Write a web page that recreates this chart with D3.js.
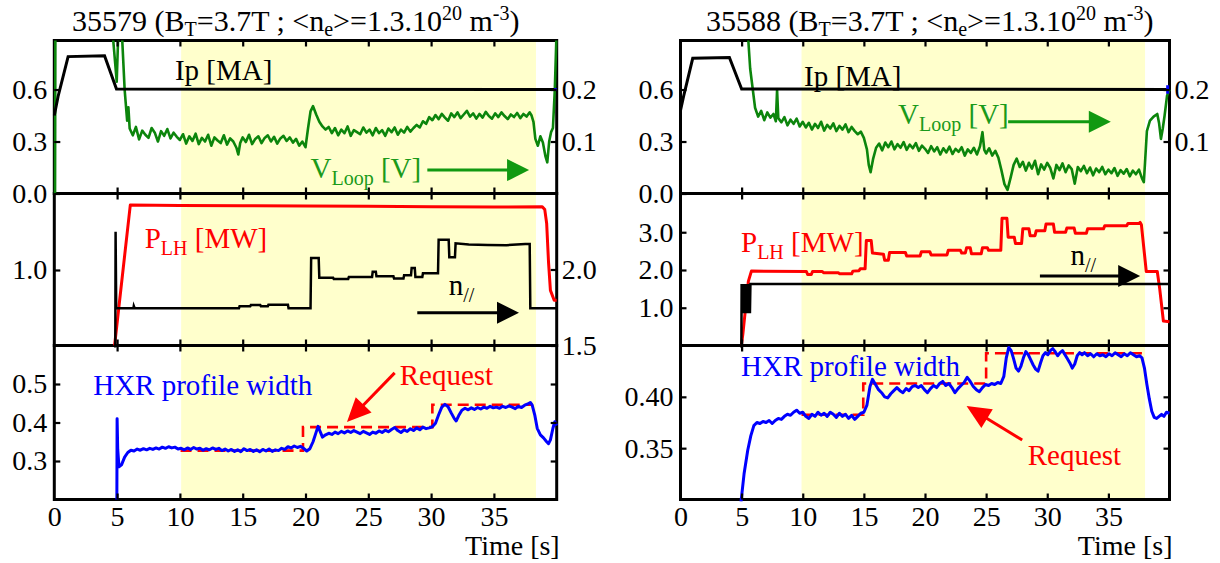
<!DOCTYPE html>
<html><head><meta charset="utf-8">
<script src="https://cdn.jsdelivr.net/npm/d3@7"></script>
<style>
body{margin:0;background:#fff}
svg{display:block}
</style>
</head><body>
<svg id="c" width="1220" height="563"></svg>
<script>
// ---------------- DATA ----------------
const xTicks = [0,5,10,15,20,25,30,35];
const ipTicks = [0.0,0.3,0.6];
const vloopTicks = [0.1,0.2];
const plhTicks35579 = [1.0];
const nparTicks35579 = [1.5,2.0];
const plhTicks35588 = [1.0,2.0,3.0];
const hxrTicks35579 = [0.3,0.4,0.5];
const hxrTicks35588 = [0.35,0.40];

const band35579 = [10.1, 38.35];
const band35588 = [9.9, 38.0];

// Ip [MA]
const ip35579 = [[0,0.45],[0.3,0.56],[1.1,0.79],[4.0,0.795],[4.95,0.603],[40,0.6]];
const ip35588 = [[0,0.48],[0.25,0.56],[1.0,0.78],[4.0,0.785],[5.0,0.603],[40,0.6]];
const ipTail35579 = [[39.8,0.6],[40,0.6]];
const ipTail35588 = [[39.85,0.575],[39.85,0.625]];

// V_loop [V]
const vloop35579 = [[0.06,0],[0.09,0.35],[4.5,0.35],[4.97,0.215],[5.15,0.35],[5.3,0.35],[5.6,0.2],[5.8,0.14],[5.9,0.166],[6.0,0.125],
[6.25,0.112],[6.5,0.128],[6.75,0.104],[7.0,0.121],[7.25,0.113],[7.5,0.107],[7.75,0.126],[8.0,0.117],[8.25,0.100],[8.5,0.120],[8.75,0.111],[9.0,0.124],[9.25,0.106],[9.5,0.117],[9.75,0.109],
[10.0,0.103],[10.25,0.114],[10.5,0.096],[10.75,0.110],[11.0,0.101],[11.25,0.115],[11.5,0.095],[11.75,0.107],[12.0,0.100],[12.25,0.113],[12.5,0.092],[12.75,0.108],[13.0,0.102],[13.25,0.097],[13.5,0.112],[13.75,0.094],[14.0,0.106],[14.25,0.100],[14.5,0.088],[14.65,0.075],[14.8,0.097],[15.0,0.108],[15.25,0.099],[15.5,0.113],[15.75,0.095],[16.0,0.105],[16.25,0.110],[16.5,0.097],[16.75,0.107],[17.0,0.112],[17.25,0.100],[17.5,0.109],[17.75,0.096],[18.0,0.106],[18.25,0.111],[18.5,0.101],[18.75,0.108],[19.0,0.098],[19.25,0.105],[19.5,0.092],[19.75,0.100],[20.0,0.089],
[20.2,0.125],[20.4,0.158],[20.6,0.168],[20.85,0.152],[21.1,0.138],[21.35,0.129],[21.6,0.123],[21.85,0.128],[22.1,0.116],[22.35,0.126],[22.6,0.112],[22.85,0.123],[23.1,0.116],[23.35,0.129],[23.6,0.111],[23.85,0.122],[24.1,0.118],[24.35,0.114],[24.6,0.127],[24.85,0.117],[25.1,0.123],[25.35,0.112],[25.6,0.126],[25.85,0.116],[26.1,0.122],[26.35,0.111],[26.6,0.125],[26.85,0.118],[27.1,0.127],[27.35,0.113],[27.6,0.123],[27.85,0.117],[28.1,0.128],[28.35,0.119],[28.6,0.126],[28.85,0.132],[29.1,0.127],[29.35,0.139],[29.6,0.134],[29.85,0.147],[30.1,0.141],[30.35,0.151],[30.6,0.143],[30.85,0.153],[31.1,0.146],[31.35,0.140],[31.6,0.154],[31.85,0.147],[32.1,0.156],[32.35,0.145],[32.6,0.152],[32.85,0.159],[33.1,0.148],[33.35,0.154],[33.6,0.144],[33.85,0.153],[34.1,0.146],[34.35,0.157],[34.6,0.149],[34.85,0.144],[35.1,0.154],[35.35,0.147],[35.6,0.156],[35.85,0.149],[36.1,0.143],[36.35,0.152],[36.6,0.147],[36.85,0.155],[37.1,0.145],[37.35,0.153],[37.6,0.148],[37.85,0.156],[38.0,0.150],
[38.15,0.138],[38.3,0.105],[38.5,0.092],[38.7,0.110],[38.9,0.098],[39.1,0.072],[39.25,0.060],[39.4,0.100],[39.55,0.118],[39.7,0.126],[39.85,0.200],[40.0,0.320]];

const vloop35588 = [[5.45,0.33],[5.7,0.24],[6.1,0.165],[6.35,0.148],[6.6,0.159],[6.85,0.141],[7.1,0.156],[7.35,0.146],[7.6,0.153],[7.8,0.139],[7.9,0.199],[8.0,0.145],[8.25,0.137],[8.5,0.147],[8.75,0.131],[9.0,0.142],[9.25,0.134],[9.5,0.144],[9.75,0.129],
[10.0,0.138],[10.25,0.127],[10.5,0.136],[10.75,0.123],[11.0,0.134],[11.25,0.126],[11.5,0.138],[11.75,0.121],[12.0,0.132],[12.25,0.125],[12.5,0.135],[12.75,0.120],[13.0,0.130],[13.25,0.123],[13.5,0.133],[13.75,0.118],[14.0,0.128],[14.25,0.120],[14.5,0.114],[14.75,0.119],[15.0,0.107],[15.25,0.085],[15.4,0.055],[15.55,0.041],[15.75,0.066],[16.0,0.088],[16.25,0.096],[16.5,0.083],[16.75,0.098],[17.0,0.089],[17.25,0.100],[17.5,0.085],[17.75,0.095],[18.0,0.088],[18.25,0.099],[18.5,0.084],[18.75,0.094],[19.0,0.087],[19.25,0.097],[19.5,0.082],[19.75,0.092],
[20.0,0.086],[20.25,0.078],[20.5,0.091],[20.75,0.081],[21.0,0.089],[21.25,0.075],[21.5,0.087],[21.75,0.079],[22.0,0.090],[22.25,0.076],[22.5,0.086],[22.75,0.080],[23.0,0.089],[23.25,0.073],[23.5,0.085],[23.75,0.078],[24.0,0.088],[24.25,0.075],[24.5,0.091],[24.7,0.118],[24.85,0.084],[25.0,0.077],[25.25,0.087],[25.5,0.073],[25.75,0.082],[26.0,0.069],[26.25,0.045],[26.5,0.018],[26.75,0.007],[27.0,0.030],[27.25,0.055],[27.5,0.067],[27.75,0.051],[28.0,0.061],[28.25,0.044],[28.5,0.059],[28.75,0.048],[29.0,0.063],[29.25,0.037],[29.5,0.056],[29.75,0.046],
[30.0,0.059],[30.25,0.049],[30.5,0.029],[30.75,0.055],[31.0,0.045],[31.25,0.058],[31.5,0.041],[31.75,0.054],[32.0,0.047],[32.25,0.019],[32.5,0.051],[32.75,0.043],[33.0,0.053],[33.25,0.039],[33.5,0.050],[33.75,0.035],[34.0,0.048],[34.25,0.041],[34.5,0.051],[34.75,0.037],[35.0,0.046],[35.25,0.039],[35.5,0.049],[35.75,0.034],[36.0,0.045],[36.25,0.038],[36.5,0.047],[36.75,0.033],[37.0,0.044],[37.25,0.037],[37.5,0.046],[37.75,0.029],[37.9,0.022],
[38.0,0.060],[38.15,0.120],[38.4,0.140],[38.7,0.148],[39.0,0.153],[39.15,0.135],[39.3,0.105],[39.45,0.125],[39.6,0.150],[39.8,0.188],[40.0,0.200]];

// P_LH [MW]
const plh35579 = [[4.8,0],[6.05,1.86],[10,1.855],[15,1.852],[20,1.848],[25,1.843],[30,1.838],[35,1.833],[38.85,1.838],[39.05,1.80],[39.2,1.62],[39.35,1.10],[39.5,0.73],[39.8,0.60],[40,0.60]];
const plh35588 = [[4.98,0],[5.1,0.3],[5.55,1.7],[5.8,1.97],[10.3,1.96],[10.4,1.88],[10.7,1.88],[10.8,1.96],[11.6,1.96],[11.7,1.93],[12.9,1.93],[13.0,1.9],[14.0,1.9],[14.1,1.97],[14.6,1.98],[14.7,2.03],[15.1,2.03],[15.2,2.78],[15.6,2.78],[15.7,2.45],[16.6,2.42],[16.7,2.26],[17.0,2.26],[17.1,2.46],[18.4,2.46],[18.5,2.37],[19.6,2.37],[19.7,2.48],[20.4,2.48],[20.5,2.40],[21.8,2.40],[21.9,2.52],[22.9,2.52],[23.0,2.45],[23.3,2.45],[23.4,2.59],[23.7,2.59],[23.8,2.43],[24.6,2.43],[24.7,2.59],[25.1,2.59],[25.2,2.52],[26.2,2.52],[26.3,3.37],[26.7,3.37],[26.8,2.87],[27.3,2.87],[27.4,2.70],[27.9,2.70],[28.0,3.09],[28.5,3.09],[28.6,2.91],[29.0,2.91],[29.1,3.04],[29.8,3.04],[29.9,3.22],[30.5,3.22],[30.6,3.00],[31.5,3.00],[31.6,3.11],[32.2,3.11],[32.3,2.97],[33.2,2.97],[33.3,3.09],[34.6,3.09],[34.7,3.17],[36.5,3.17],[36.6,3.23],[37.5,3.23],[37.6,3.26],[37.7,3.20],[38.1,1.96],[39.0,1.96],[39.2,1.50],[39.5,0.65],[40,0.63]];

// n_par (right axis of panel 2)
const npar35579 = [[4.85,1.3],[4.88,2.249],[4.93,1.745],[6.3,1.745],[6.33,1.76],[6.4,1.745],[14.7,1.745],[14.75,1.758],[15.6,1.758],[15.65,1.766],[16.4,1.766],[16.45,1.758],[17.0,1.758],[17.05,1.768],[18.6,1.768],[18.65,1.745],[20.4,1.745],[20.45,2.075],[21.05,2.075],[21.1,1.945],[22.2,1.945],[22.25,1.938],[23.4,1.938],[23.45,1.95],[25.3,1.95],[25.35,1.985],[25.6,1.985],[25.65,1.955],[27.0,1.955],[27.05,1.94],[27.8,1.94],[27.85,1.962],[28.4,1.962],[28.45,2.01],[28.7,2.01],[28.75,1.95],[29.3,1.95],[29.35,1.975],[30.55,1.975],[30.6,2.195],[31.4,2.195],[31.45,2.08],[31.9,2.08],[31.95,2.172],[33.0,2.165],[34.5,2.162],[36.0,2.16],[37.5,2.168],[37.85,2.168],[37.9,1.745],[40,1.745]];
const npar35588 = [[4.97,1.3],[5.0,1.905],[5.04,1.712],[5.08,1.905],[5.12,1.712],[5.16,1.905],[5.2,1.712],[5.24,1.905],[5.28,1.712],[5.32,1.905],[5.36,1.712],[5.4,1.905],[5.44,1.712],[5.48,1.905],[5.52,1.712],[5.56,1.905],[5.6,1.712],[5.64,1.905],[5.68,1.712],[5.72,1.905],[10,1.905],[20,1.904],[30,1.905],[40,1.905]];

// HXR profile width
const hxr35579 = [[4.98,0.20],[5.0,0.41],[5.05,0.33],[5.15,0.285],[5.35,0.29],[5.6,0.31],[5.85,0.322],[6.1,0.328],[6.35,0.326],[6.6,0.331],[6.85,0.328],[7.1,0.332],[7.35,0.329],[7.6,0.333],[7.85,0.330],[8.1,0.334],[8.35,0.331],[8.6,0.336],[8.85,0.333],[9.1,0.337],[9.35,0.334],[9.6,0.336],[9.85,0.331],
[10.1,0.333],[10.35,0.329],[10.6,0.334],[10.85,0.330],[11.1,0.335],[11.35,0.331],[11.6,0.333],[11.85,0.328],[12.1,0.332],[12.35,0.329],[12.6,0.334],[12.85,0.330],[13.1,0.333],[13.35,0.327],[13.6,0.331],[13.85,0.326],[14.1,0.330],[14.35,0.325],[14.6,0.329],[14.85,0.324],[15.1,0.332],[15.35,0.327],[15.6,0.330],[15.85,0.325],[16.1,0.329],[16.35,0.324],[16.6,0.330],[16.85,0.326],[17.1,0.331],[17.35,0.325],[17.6,0.329],[17.85,0.327],[18.1,0.333],[18.35,0.330],[18.6,0.337],[18.85,0.334],[19.1,0.339],[19.35,0.335],[19.6,0.338],[19.85,0.333],
[20.1,0.326],[20.35,0.332],[20.6,0.350],[20.85,0.375],[21.0,0.390],[21.15,0.378],[21.35,0.362],[21.6,0.368],[21.85,0.372],[22.1,0.369],[22.35,0.375],[22.6,0.371],[22.85,0.377],[23.1,0.373],[23.35,0.378],[23.6,0.374],[23.85,0.379],[24.1,0.375],[24.35,0.371],[24.6,0.377],[24.85,0.373],[25.1,0.369],[25.35,0.375],[25.6,0.372],[25.85,0.378],[26.1,0.374],[26.35,0.380],[26.6,0.376],[26.85,0.382],[27.1,0.387],[27.35,0.379],[27.6,0.374],[27.85,0.381],[28.1,0.377],[28.35,0.384],[28.6,0.379],[28.85,0.386],[29.1,0.381],[29.35,0.388],[29.6,0.384],[29.85,0.386],
[30.1,0.389],[30.35,0.398],[30.6,0.420],[30.85,0.440],[31.1,0.447],[31.35,0.441],[31.6,0.425],[31.85,0.410],[32.0,0.404],[32.2,0.418],[32.45,0.432],[32.7,0.437],[32.95,0.433],[33.2,0.438],[33.45,0.434],[33.7,0.439],[33.95,0.435],[34.2,0.440],[34.45,0.437],[34.7,0.442],[34.95,0.438],[35.2,0.440],[35.45,0.437],[35.7,0.442],[35.95,0.439],[36.2,0.443],[36.45,0.440],[36.7,0.436],[36.95,0.442],[37.2,0.439],[37.45,0.445],[37.7,0.448],[37.9,0.452],[38.05,0.445],[38.25,0.420],[38.45,0.385],[38.7,0.368],[38.95,0.360],[39.2,0.350],[39.35,0.345],[39.5,0.355],[39.7,0.385],[39.85,0.402],[40,0.392]];

const hxr35588 = [[4.95,0.298],[5.2,0.325],[5.5,0.348],[5.75,0.362],[6.0,0.372],[6.25,0.375],[6.5,0.374],[6.75,0.376],[7.0,0.375],[7.25,0.377],[7.5,0.374],[7.75,0.377],[8.0,0.379],[8.25,0.378],[8.5,0.381],[8.75,0.383],[9.0,0.382],[9.25,0.385],[9.5,0.387],[9.75,0.384],
[10.0,0.385],[10.25,0.381],[10.5,0.379],[10.75,0.383],[11.0,0.381],[11.25,0.385],[11.5,0.382],[11.75,0.384],[12.0,0.381],[12.25,0.385],[12.5,0.383],[12.75,0.380],[13.0,0.384],[13.25,0.381],[13.5,0.383],[13.75,0.379],[14.0,0.382],[14.25,0.378],[14.5,0.381],[14.75,0.384],[15.0,0.385],[15.25,0.392],[15.5,0.410],[15.7,0.417],[15.95,0.412],[16.2,0.407],[16.45,0.404],[16.7,0.400],[16.95,0.399],[17.2,0.403],[17.45,0.406],[17.7,0.409],[17.95,0.406],[18.2,0.404],[18.45,0.408],[18.7,0.406],[18.95,0.410],[19.2,0.411],[19.45,0.409],[19.7,0.411],[19.95,0.407],
[20.2,0.404],[20.45,0.408],[20.7,0.411],[20.95,0.409],[21.2,0.413],[21.45,0.415],[21.7,0.411],[21.95,0.413],[22.2,0.409],[22.45,0.404],[22.7,0.408],[22.95,0.411],[23.2,0.414],[23.45,0.419],[23.7,0.415],[23.95,0.410],[24.2,0.407],[24.45,0.405],[24.7,0.409],[24.95,0.412],[25.2,0.411],[25.45,0.413],[25.7,0.412],[25.95,0.414],[26.2,0.413],[26.45,0.420],[26.65,0.438],[26.85,0.448],[27.05,0.445],[27.25,0.437],[27.45,0.428],[27.65,0.425],[27.85,0.430],[28.05,0.438],[28.25,0.444],[28.45,0.441],[28.65,0.436],[28.85,0.431],[29.05,0.427],[29.25,0.425],[29.45,0.433],[29.65,0.440],[29.85,0.443],
[30.05,0.441],[30.25,0.445],[30.45,0.447],[30.65,0.444],[30.85,0.440],[31.05,0.443],[31.25,0.445],[31.45,0.441],[31.65,0.437],[31.85,0.433],[32.05,0.428],[32.25,0.432],[32.45,0.440],[32.65,0.443],[32.85,0.441],[33.05,0.443],[33.3,0.440],[33.55,0.442],[33.8,0.439],[34.05,0.442],[34.3,0.440],[34.55,0.441],[34.8,0.439],[35.05,0.442],[35.3,0.440],[35.55,0.443],[35.8,0.441],[36.05,0.439],[36.3,0.442],[36.55,0.440],[36.8,0.443],[37.05,0.441],[37.3,0.439],[37.55,0.440],[37.75,0.438],[37.95,0.428],[38.15,0.412],[38.35,0.398],[38.55,0.386],[38.75,0.380],[38.95,0.379],[39.15,0.381],[39.35,0.383],[39.55,0.381],[39.75,0.385],[40,0.384]];

// Requested HXR width (step)
const request35579 = [[10.05,0.327],[19.8,0.388],[30.1,0.446],[38.1,0.446]];
const request35588 = [[9.9,0.3825],[14.95,0.413],[25.0,0.4425],[37.85,0.4425]];

// ---------------- DRAWING ----------------
const svg = d3.select('#c');
const FONT = '"Liberation Serif","Times New Roman",serif';
const GREEN_LINE = '#0c850c', GREEN_TXT = '#1a9a1a';

const shots = [
  {id:'s35579', title:[['35579 (B'],['T','sub'],['=3.7T ; <n'],['e','sub'],['>=1.3.10'],['20','sup'],[' m'],['-3','sup'],[')']],
   titleX:72, x0:54.3, x1:556.7, band:band35579, ip:ip35579, ipTail:ipTail35579, vloop:vloop35579,
   plh:plh35579, plhDomain:[0,2.013], plhTicks:plhTicks35579, npar:npar35579, nparAxis:true,
   hxr:hxr35579, hxrDomain:[0.2,0.6], hxrTicks:hxrTicks35579, hxrFmt:'.1f', req:request35579,
   ann:{ip:[9.6,0.655], vl:[20.4,0.03], vlArrow:[[29.7,0.045],[37.8,0.045]], plh:[7.2,1.29],
        n:[31.4,1.832], nArrow:[[28.9,1.716],[37.0,1.716]], hxr:[3.1,0.471], req:[27.5,0.497], reqArrow:[[27.1,0.529],[23.3,0.401]]}},
  {id:'s35588', title:[['35588 (B'],['T','sub'],['=3.7T ; <n'],['e','sub'],['>=1.3.10'],['20','sup'],[' m'],['-3','sup'],[')']],
   titleX:706, x0:680.5, x1:1169.5, band:band35588, ip:ip35588, ipTail:ipTail35588, vloop:vloop35588,
   plh:plh35588, plhDomain:[0,4.026], plhTicks:plhTicks35588, npar:npar35588, nparAxis:false,
   hxr:hxr35588, hxrDomain:[0.30,0.45], hxrTicks:hxrTicks35588, hxrFmt:'.2f', req:request35588,
   ann:{ip:[10.1,0.62], vl:[17.8,0.134], vlArrow:[[26.8,0.138],[35.2,0.138]], plh:[4.95,2.48],
        n:[31.9,2.03], nArrow:[[29.4,1.957],[37.6,1.957]], hxr:[4.95,0.42], req:[28.4,0.334], reqArrow:[[27.95,0.358],[23.4,0.391]]}}
];

const P = [{y0:40.5,y1:193.5},{y0:193.5,y1:345.5},{y0:345.5,y1:499.5}];

function richText(g, x, y, parts, size, color, subSize, subShift){
  const t = g.append('text').attr('x',x).attr('y',y).attr('fill',color)
    .style('font-family',FONT).style('font-size',size+'px');
  let shift = 0;
  parts.forEach(p=>{
    const kind = p[1];
    let target = 0, fs = size;
    if(kind==='sub'){ target = size*(subShift||0.24); fs = subSize; }
    if(kind==='sup'){ target = -size*0.36; fs = subSize; }
    const ts = t.append('tspan').text(p[0]).style('font-size',fs+'px');
    const dy = target - shift;
    if(dy!==0) ts.attr('dy',dy);
    shift = target;
  });
  return t;
}

function arrow(g, p0, p1, color, hl, hw, sw){
  const dx = p1[0]-p0[0], dy = p1[1]-p0[1];
  const L = Math.hypot(dx,dy), ux = dx/L, uy = dy/L;
  const bx = p1[0]-ux*hl, by = p1[1]-uy*hl;
  g.append('line').attr('x1',p0[0]).attr('y1',p0[1]).attr('x2',bx+ux*2).attr('y2',by+uy*2)
    .attr('stroke',color).attr('stroke-width',sw);
  g.append('path').attr('d',`M${p1[0]},${p1[1]}L${bx-uy*hw},${by+ux*hw}L${bx+uy*hw},${by-ux*hw}Z`).attr('fill',color);
}

function styleAxis(sel){
  sel.select('.domain').remove();
  sel.selectAll('line').attr('stroke','#000').attr('stroke-width',2.2);
  sel.selectAll('text').style('font-family',FONT).style('font-size','28px').attr('fill','#000');
}

shots.forEach(s=>{
  const g = svg.append('g');
  const x = d3.scaleLinear().domain([0,40]).range([s.x0,s.x1]);
  const yIp = d3.scaleLinear().domain([0,0.883]).range([P[0].y1,P[0].y0]);
  const yV  = d3.scaleLinear().domain([0,0.883/3]).range([P[0].y1,P[0].y0]);
  const yP  = d3.scaleLinear().domain(s.plhDomain).range([P[1].y1,P[1].y0]);
  const yN  = d3.scaleLinear().domain([1.5,2.5]).range([P[1].y1,P[1].y0]);
  const yH  = d3.scaleLinear().domain(s.hxrDomain).range([P[2].y1,P[2].y0]);
  const W = s.x1 - s.x0;

  // yellow band
  g.append('rect').attr('x',x(s.band[0])).attr('y',P[0].y0)
    .attr('width',x(s.band[1])-x(s.band[0])).attr('height',P[2].y1-P[0].y0).attr('fill','#FFFFCC');

  // clip paths
  const defs = g.append('defs');
  P.forEach((p,i)=>{
    const top = i===0 ? p.y0 : p.y0-2;
    defs.append('clipPath').attr('id',`${s.id}c${i}`).append('rect')
      .attr('x',s.x0-2).attr('y',top).attr('width',W+4).attr('height',p.y1+2-top);
  });

  const line = (ys)=>d3.line().x(d=>x(d[0])).y(d=>ys(d[1]));
  const pg = i=>g.append('g').attr('clip-path',`url(#${s.id}c${i})`);

  // frames
  P.forEach(p=>{
    g.append('rect').attr('x',s.x0).attr('y',p.y0).attr('width',W).attr('height',p.y1-p.y0)
      .attr('fill','none').attr('stroke','#000').attr('stroke-width',3);
  });

  // panel 1
  const g1 = pg(0);
  g1.append('path').datum(s.vloop).attr('d',line(yV)).attr('fill','none').attr('stroke',GREEN_LINE).attr('stroke-width',2.6).attr('stroke-linejoin','round');
  g1.append('path').datum(s.ip).attr('d',line(yIp)).attr('fill','none').attr('stroke','#000').attr('stroke-width',3);
  g1.append('path').datum(s.ipTail).attr('d',line(yIp)).attr('fill','none').attr('stroke','#0000ff').attr('stroke-width',3);

  // panel 2
  const g2 = pg(1);
  g2.append('path').datum(s.plh).attr('d',line(yP)).attr('fill','none').attr('stroke','#ff0000').attr('stroke-width',3).attr('stroke-linejoin','round');
  g2.append('path').datum(s.npar).attr('d',line(yN)).attr('fill','none').attr('stroke','#000').attr('stroke-width',2.5);

  // panel 3
  const g3 = pg(2);
  g3.append('path').datum(s.req).attr('d',line(yH).curve(d3.curveStepAfter)).attr('fill','none')
    .attr('stroke','#ff0000').attr('stroke-width',2.6).attr('stroke-dasharray','11,6');
  g3.append('path').datum(s.hxr).attr('d',line(yH)).attr('fill','none').attr('stroke','#0000ff').attr('stroke-width',3).attr('stroke-linejoin','round');

  // x ticks (all panels, inward top and bottom)
  P.forEach((p,i)=>{
    const b = g.append('g').attr('transform',`translate(0,${p.y1})`)
      .call(d3.axisBottom(x).tickValues(xTicks.filter(t=>t>0)).tickSize(-6).tickFormat(''));
    styleAxis(b);
    const tp = g.append('g').attr('transform',`translate(0,${p.y0})`)
      .call(d3.axisTop(x).tickValues(xTicks.filter(t=>t>0)).tickSize(-6).tickFormat(''));
    styleAxis(tp);
  });
  const xl = g.append('g').attr('transform',`translate(0,${P[2].y1})`)
    .call(d3.axisBottom(x).tickValues(xTicks).tickSize(0).tickPadding(7).tickFormat(d3.format('d')));
  styleAxis(xl);
  g.append('text').attr('x',s.x1+3).attr('y',555).attr('text-anchor','end')
    .style('font-family',FONT).style('font-size','28px').text('Time [s]');

  // y axes
  const left = (scale, ticks, fmt)=>{ const a = g.append('g').attr('transform',`translate(${s.x0},0)`)
      .call(d3.axisLeft(scale).tickValues(ticks).tickSize(-6).tickPadding(7).tickFormat(d3.format(fmt))); styleAxis(a); };
  const right = (scale, ticks, fmt, labels)=>{ const a = g.append('g').attr('transform',`translate(${s.x1},0)`)
      .call(d3.axisRight(scale).tickValues(ticks).tickSize(-6).tickPadding(5).tickFormat(labels?d3.format(fmt):'')); styleAxis(a); };

  left(yIp, ipTicks, '.1f');
  right(yV, vloopTicks, '.1f', true);
  left(yP, s.plhTicks, '.1f');
  if(s.nparAxis) right(yN, nparTicks35579, '.1f', true);
  else right(yP, s.plhTicks, '.1f', false);
  left(yH, s.hxrTicks, s.hxrFmt);
  right(yH, s.hxrTicks, s.hxrFmt, false);

  // title
  richText(g, s.titleX, 31, s.title, 30, '#000', 20, 0.17);

  // annotations
  const A = s.ann;
  richText(g, x(A.ip[0]), yIp(A.ip[1]), [['Ip [MA]']], 29, '#000', 20);
  richText(g, x(A.vl[0]), yV(A.vl[1]), [['V'],['Loop','sub'],[' [V]']], 29, GREEN_TXT, 20);
  arrow(g, [x(A.vlArrow[0][0]), yV(A.vlArrow[0][1])], [x(A.vlArrow[1][0]), yV(A.vlArrow[1][1])], '#119911', 22, 11, 3);
  richText(g, x(A.plh[0]), yP(A.plh[1]), [['P'],['LH','sub'],[' [MW]']], 29, '#ff0000', 20);
  richText(g, x(A.n[0]), yN(A.n[1]), [['n'],['//','sub']], 29, '#000', 20);
  arrow(g, [x(A.nArrow[0][0]), yN(A.nArrow[0][1])], [x(A.nArrow[1][0]), yN(A.nArrow[1][1])], '#000', 22, 11, 3);
  richText(g, x(A.hxr[0]), yH(A.hxr[1]), [['HXR profile width']], 29, '#0000ff', 20);
  richText(g, x(A.req[0]), yH(A.req[1]), [['Request']], 29, '#ff0000', 20);
  arrow(g, [x(A.reqArrow[0][0]), yH(A.reqArrow[0][1])], [x(A.reqArrow[1][0]), yH(A.reqArrow[1][1])], '#ff0000', 24, 11, 3);
});
</script>
</body></html>
